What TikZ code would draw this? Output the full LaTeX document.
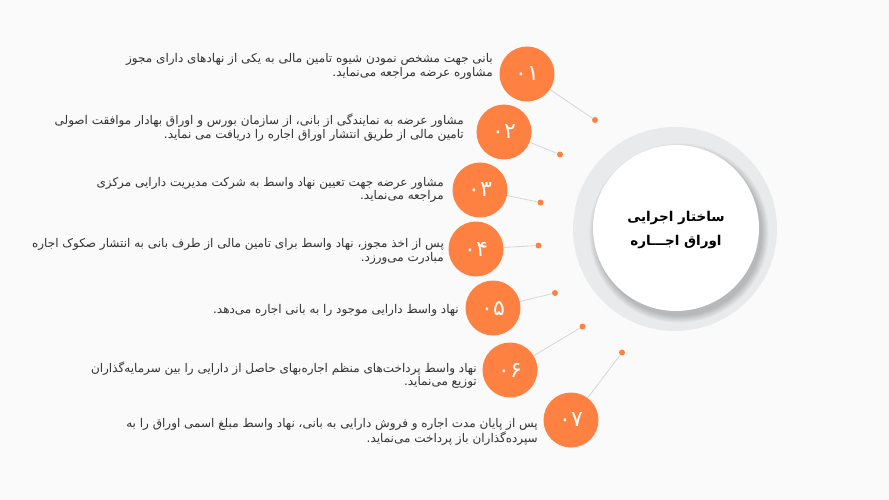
\documentclass[tikz,border=0pt]{standalone}
\usepackage{fontspec}
\newfontfamily\arabicfont[Script=Arabic]{DejaVu Sans}
\TeXXeTstate=1
\newcommand{\faline}[1]{\beginR #1\endR}

\definecolor{stepfill}{HTML}{FF8142}
\definecolor{linkgray}{HTML}{D4D6D8}
\definecolor{ringgray}{HTML}{E8EAEB}
\definecolor{notegray}{HTML}{333333}
\definecolor{pagebg}{HTML}{FAFAFA}

\tikzset{
  numcircle/.style={shape=circle, fill=stepfill, minimum size=55pt, inner sep=0pt,
    text=white, font=\arabicfont\fontsize{22}{22}\selectfont},
  enddot/.style={shape=circle, fill=stepfill, minimum size=6pt, inner sep=0pt},
  link/.style={draw=linkgray, line width=0.8pt},
  stepnote/.style={anchor=east, align=right, inner sep=0pt, text=notegray,
    font=\arabicfont\fontsize{12}{13.5}\selectfont},
}

\begin{document}
\begin{tikzpicture}[x=1pt,y=-1pt]

%background
\fill [pagebg] (0,0) rectangle (889,500);
\useasboundingbox (0,0) rectangle (889,500);

%draw centre ring with shadow and title
\node [shape=circle, fill=ringgray, minimum size=204pt, inner sep=0pt] at (675,229) (ring) {};
\foreach \k in {0,...,6}
  \fill [black, opacity=0.03] (679,233) circle ({83+\k*1.1pt});
\node [shape=circle, fill=white, minimum size=166pt, inner sep=0pt] at (676,228) (core) {};
\node [align=center, inner sep=0pt, font=\arabicfont\bfseries\fontsize{13.5}{24}\selectfont] at (676,230) (title)
  {\faline{ساختار اجرایی}\\ \faline{اوراق اجـــاره}};

%draw numbered steps with their end dots
\node [numcircle] at (527,74) (n1) {۰۱};
\node [numcircle] at (504,132) (n2) {۰۲};
\node [numcircle] at (480,190) (n3) {۰۳};
\node [numcircle] at (476,249) (n4) {۰۴};
\node [numcircle] at (493,308) (n5) {۰۵};
\node [numcircle] at (510,370) (n6) {۰۶};
\node [numcircle] at (571,420) (n7) {۰۷};

\node [enddot] at (595,120) (d1) {};
\node [enddot] at (560,154.5) (d2) {};
\node [enddot] at (540.5,202.5) (d3) {};
\node [enddot] at (538.5,245.5) (d4) {};
\node [enddot] at (555,293) (d5) {};
\node [enddot] at (582.5,326.5) (d6) {};
\node [enddot] at (622,352.5) (d7) {};

%lines between steps and dots
\foreach \i in {1,...,7}
  \draw [link] (n\i) -- (d\i);

%step texts
\node [stepnote] at (493,66.5) (t1)
  {\faline{بانی جهت مشخص نمودن شیوه تامین مالی به یکی از نهادهای دارای مجوز}\\
   \faline{مشاوره عرضه مراجعه می‌نماید.}};
\node [stepnote] at (464,127.5) (t2)
  {\faline{مشاور عرضه به نمایندگی از بانی، از سازمان بورس و اوراق بهادار موافقت اصولی}\\
   \faline{تامین مالی از طریق انتشار اوراق اجاره را دریافت می نماید.}};
\node [stepnote] at (444,190) (t3)
  {\faline{مشاور عرضه جهت تعیین نهاد واسط به شرکت مدیریت دارایی مرکزی}\\
   \faline{مراجعه می‌نماید.}};
\node [stepnote] at (444,251.5) (t4)
  {\faline{پس از اخذ مجوز، نهاد واسط برای تامین مالی از طرف بانی به انتشار صکوک اجاره}\\
   \faline{مبادرت می‌ورزد.}};
\node [stepnote] at (459,310) (t5)
  {\faline{نهاد واسط دارایی موجود را به بانی اجاره می‌دهد.}};
\node [stepnote] at (477,375) (t6)
  {\faline{نهاد واسط پرداخت‌های منظم اجاره‌بهای حاصل از دارایی را بین سرمایه‌گذاران}\\
   \faline{توزیع می‌نماید.}};
\node [stepnote] at (538,432) (t7)
  {\faline{پس از پایان مدت اجاره و فروش دارایی به بانی، نهاد واسط مبلغ اسمی اوراق را به}\\
   \faline{سپرده‌گذاران باز پرداخت می‌نماید.}};
\end{tikzpicture}
\end{document}
